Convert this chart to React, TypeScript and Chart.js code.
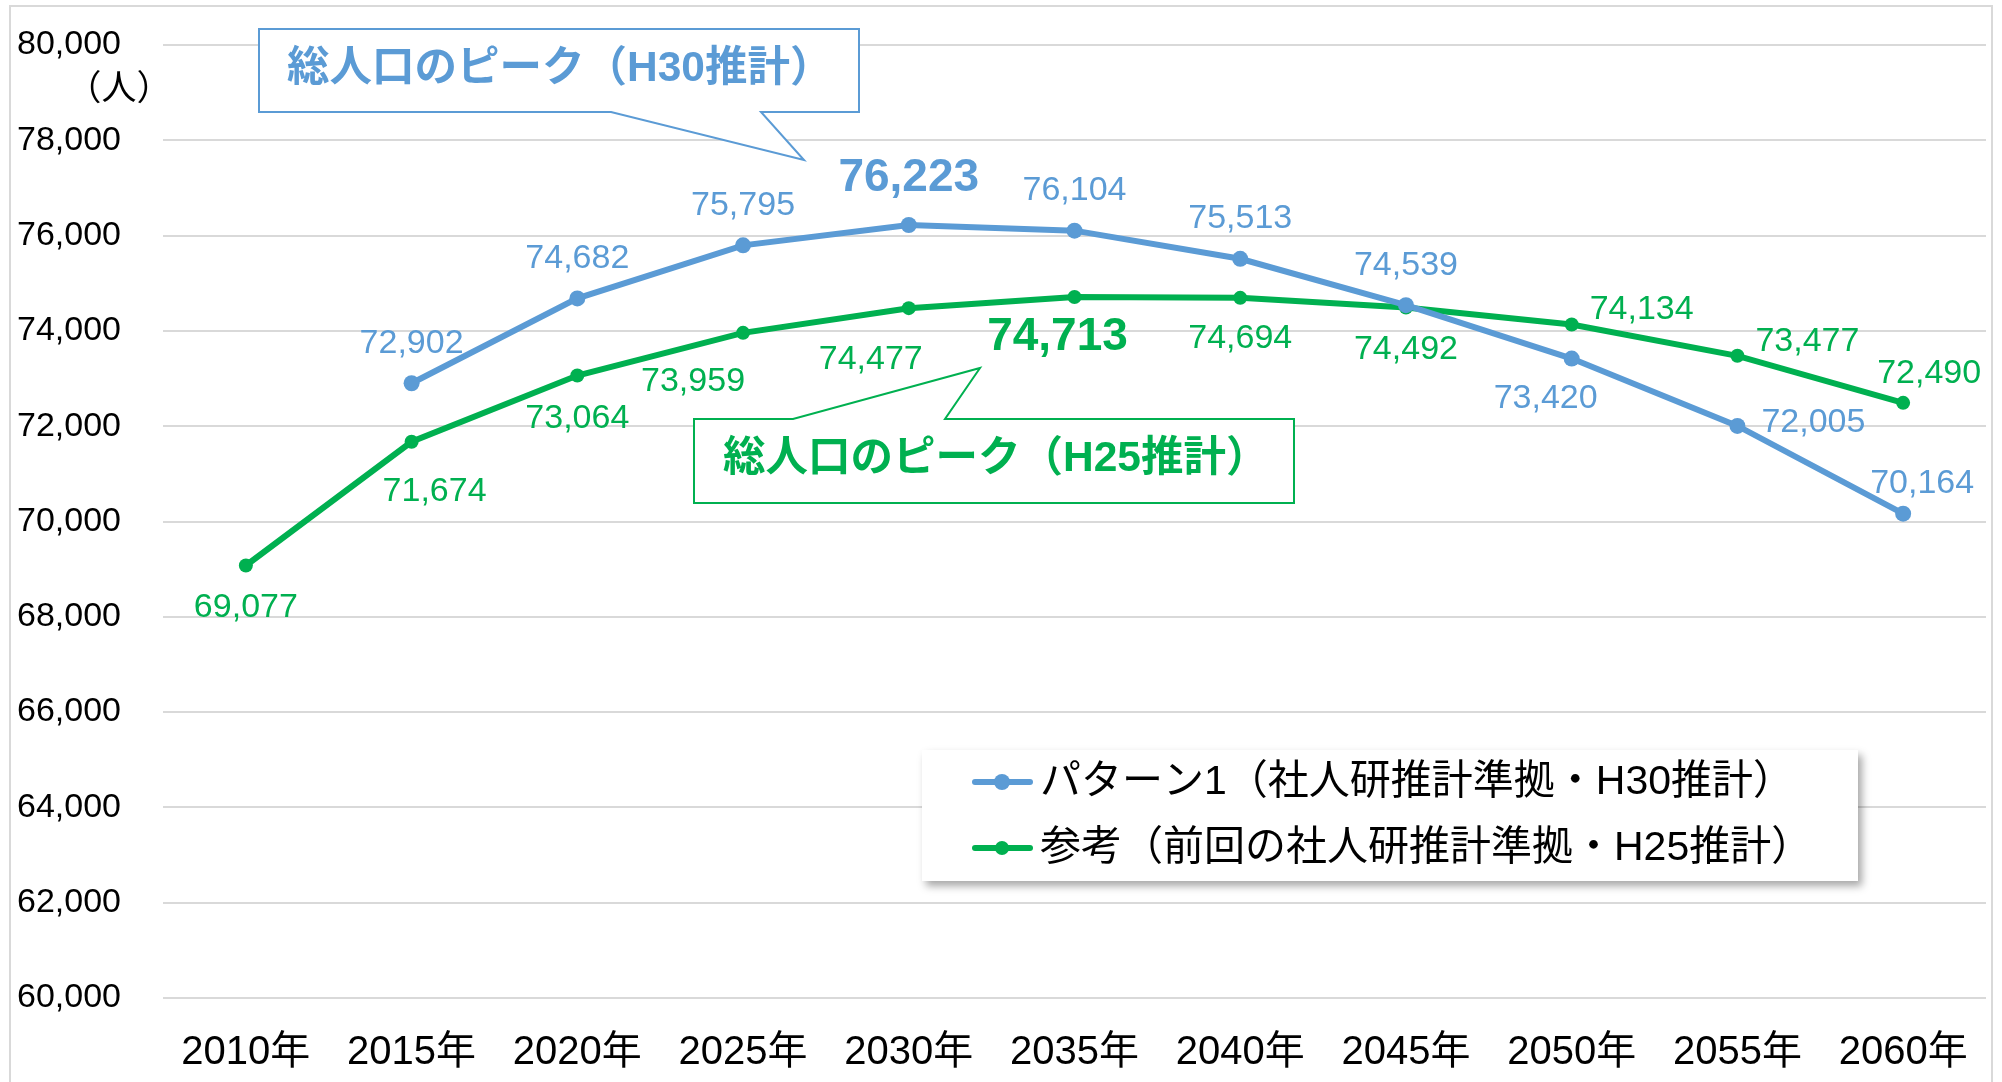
import React, { useEffect, useRef } from 'react';
import { Chart, registerables } from 'chart.js';

Chart.register(...registerables);

// ---- data ----
const categories = ['2010年', '2015年', '2020年', '2025年', '2030年', '2035年', '2040年', '2045年', '2050年', '2055年', '2060年'];
const h30Values = [null, 72902, 74682, 75795, 76223, 76104, 75513, 74539, 73420, 72005, 70164];
const h25Values = [69077, 71674, 73064, 73959, 74477, 74713, 74694, 74492, 74134, 73477, 72490];
const seriesNames = ['パターン1（社人研推計準拠・H30推計）', '参考（前回の社人研推計準拠・H25推計）'];
const calloutTexts = ['総人口のピーク（H30推計）', '総人口のピーク（H25推計）'];
const unitLabel = '（人）';
const yMin = 60000;
const yMax = 80000;
const yStep = 2000;
const h30PeakIndex = 4;
const h25PeakIndex = 5;

// ---- style ----
const BLUE = '#5B9BD5';
const GREEN = '#00B050';
const FONT = '"Liberation Sans", "Noto Sans CJK JP", sans-serif';

// data label offsets (pixels relative to the point)
const h30LabelOffsets: [number, number][] = [
  [0, 0], [0, -40], [0, -40], [0, -40], [0, -47], [0, -40], [0, -40], [0, -40], [-26, 40], [76, -3], [19, -30],
];
const h25LabelOffsets: [number, number][] = [
  [0, 42], [23, 50], [0, 43], [-50, 49], [-38, 51], [-17, 40], [0, 41], [0, 42], [70, -15], [70, -14], [26, -29],
];

const fmt = (v: number) => v.toLocaleString('en-US');

const overlayPlugin = {
  id: 'overlay',
  beforeDraw(chart: any) {
    const { ctx, width, height } = chart;
    ctx.save();
    ctx.fillStyle = '#ffffff';
    ctx.fillRect(0, 0, width, height);
    ctx.strokeStyle = '#d9d9d9';
    ctx.lineWidth = 2;
    ctx.strokeRect(10, 6, 1982, 1100);
    ctx.restore();
  },
  afterDatasetsDraw(chart: any) {
    const { ctx } = chart;
    const sets = [
      { idx: 0, values: h30Values, offsets: h30LabelOffsets, color: BLUE, peak: h30PeakIndex },
      { idx: 1, values: h25Values, offsets: h25LabelOffsets, color: GREEN, peak: h25PeakIndex },
    ];
    ctx.save();
    ctx.textAlign = 'center';
    ctx.textBaseline = 'middle';
    sets.forEach((s) => {
      const meta = chart.getDatasetMeta(s.idx);
      s.values.forEach((v, i) => {
        if (v === null || v === undefined) return;
        const el = meta.data[i];
        if (!el) return;
        const [dx, dy] = s.offsets[i];
        ctx.fillStyle = s.color;
        ctx.font = i === s.peak ? `bold 46px ${FONT}` : `34px ${FONT}`;
        ctx.fillText(fmt(v as number), el.x + dx, el.y + dy);
      });
    });
    ctx.restore();
  },
  afterDraw(chart: any) {
    const { ctx } = chart;
    ctx.save();
    // unit label
    ctx.fillStyle = '#000';
    ctx.font = `35px ${FONT}`;
    ctx.textAlign = 'center';
    ctx.textBaseline = 'middle';
    ctx.fillText(unitLabel, 119, 90);

    // callout H30
    ctx.lineWidth = 2;
    ctx.lineJoin = 'miter';
    ctx.beginPath();
    ctx.moveTo(259, 29);
    ctx.lineTo(859, 29);
    ctx.lineTo(859, 112);
    ctx.lineTo(761, 112);
    ctx.lineTo(804, 160);
    ctx.lineTo(611, 112);
    ctx.lineTo(259, 112);
    ctx.closePath();
    ctx.fillStyle = '#fff';
    ctx.fill();
    ctx.strokeStyle = BLUE;
    ctx.stroke();
    ctx.fillStyle = BLUE;
    ctx.font = `bold 42.5px ${FONT}`;
    ctx.textAlign = 'left';
    ctx.fillText(calloutTexts[0], 287, 69);

    // callout H25
    ctx.beginPath();
    ctx.moveTo(694, 419);
    ctx.lineTo(793, 419);
    ctx.lineTo(980, 368);
    ctx.lineTo(945, 419);
    ctx.lineTo(1294, 419);
    ctx.lineTo(1294, 503);
    ctx.lineTo(694, 503);
    ctx.closePath();
    ctx.fillStyle = '#fff';
    ctx.fill();
    ctx.strokeStyle = GREEN;
    ctx.stroke();
    ctx.fillStyle = GREEN;
    ctx.fillText(calloutTexts[1], 723, 459);

    // legend
    ctx.save();
    ctx.shadowColor = 'rgba(0,0,0,0.35)';
    ctx.shadowBlur = 8;
    ctx.shadowOffsetX = 4;
    ctx.shadowOffsetY = 5;
    ctx.fillStyle = '#fff';
    ctx.fillRect(922, 750, 936, 131);
    ctx.restore();
    const rows = [
      { y: 782, color: BLUE, r: 8, text: seriesNames[0] },
      { y: 848, color: GREEN, r: 7, text: seriesNames[1] },
    ];
    rows.forEach((row) => {
      ctx.strokeStyle = row.color;
      ctx.lineWidth = 6;
      ctx.lineCap = 'round';
      ctx.beginPath();
      ctx.moveTo(975, row.y);
      ctx.lineTo(1030, row.y);
      ctx.stroke();
      ctx.fillStyle = row.color;
      ctx.beginPath();
      ctx.arc(1002, row.y, row.r, 0, Math.PI * 2);
      ctx.fill();
      ctx.fillStyle = '#000';
      ctx.font = `41px ${FONT}`;
      ctx.textAlign = 'left';
      ctx.textBaseline = 'middle';
      ctx.fillText(row.text, 1040, row.y + 1);
    });
    ctx.restore();
  },
};

export default function App() {
  const ref = useRef<HTMLCanvasElement | null>(null);
  useEffect(() => {
    if (!ref.current) return;
    const chart = new Chart(ref.current, {
      type: 'line',
      data: {
        labels: categories,
        datasets: [
          {
            label: seriesNames[0],
            data: h30Values,
            borderColor: BLUE,
            backgroundColor: BLUE,
            borderWidth: 6,
            pointRadius: 8,
            pointBackgroundColor: BLUE,
            pointBorderWidth: 0,
            tension: 0,
            spanGaps: false,
          },
          {
            label: seriesNames[1],
            data: h25Values,
            borderColor: GREEN,
            backgroundColor: GREEN,
            borderWidth: 6,
            pointRadius: 7,
            pointBackgroundColor: GREEN,
            pointBorderWidth: 0,
            tension: 0,
          },
        ],
      },
      options: {
        responsive: false,
        maintainAspectRatio: false,
        animation: false,
        layout: { padding: { top: 45, right: 16, left: 0, bottom: 0 } },
        plugins: { legend: { display: false }, tooltip: { enabled: false } },
        scales: {
          x: {
            offset: true,
            grid: { display: false, drawTicks: false },
            border: { display: false },
            ticks: { color: '#000', font: { size: 40, family: FONT }, padding: 31, maxRotation: 0, autoSkip: false },
            afterFit: (s: any) => { s.height = 84; },
          },
          y: {
            min: yMin,
            max: yMax,
            grid: { color: '#d9d9d9', lineWidth: 2, drawTicks: true, tickLength: 42, tickColor: 'rgba(0,0,0,0)' },
            border: { display: false },
            ticks: {
              stepSize: yStep,
              color: '#000',
              font: { size: 34, family: FONT },
              padding: 0,
              callback: (v: any) => fmt(Number(v)),
            },
            afterFit: (s: any) => { s.width = 163; },
          },
        },
      },
      plugins: [overlayPlugin],
    });
    return () => chart.destroy();
  }, []);
  return (
    <div style={{ position: 'absolute', left: 0, top: 0, width: 2002, height: 1082, background: '#fff' }}>
      <canvas ref={ref} width={2002} height={1082} style={{ display: 'block', width: 2002, height: 1082 }} />
    </div>
  );
}
